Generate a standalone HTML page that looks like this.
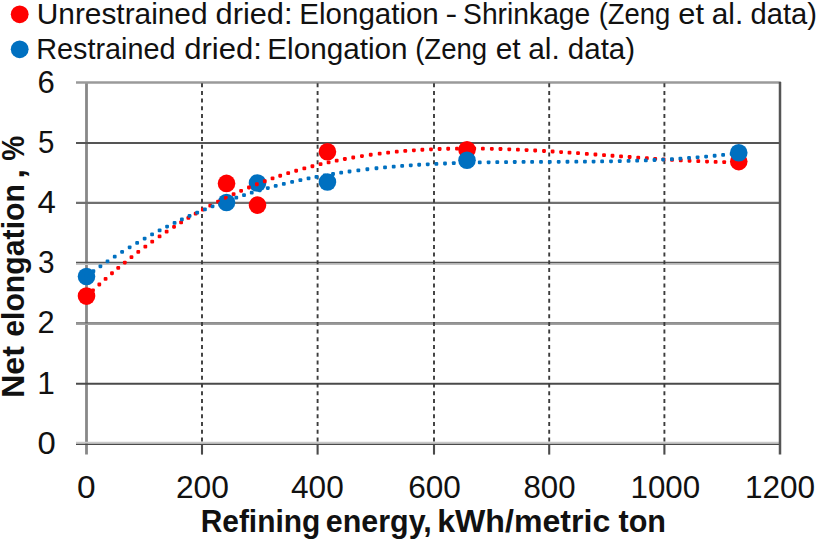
<!DOCTYPE html>
<html><head><meta charset="utf-8"><style>
html,body{margin:0;padding:0;background:#fff;}
body{width:817px;height:539px;overflow:hidden;}
svg{display:block;font-family:"Liberation Sans", sans-serif;}
</style></head><body>
<svg width="817" height="539" viewBox="0 0 817 539">
<line x1="86.5" y1="82" x2="86.5" y2="454.5" stroke="#888" stroke-width="2.8"/>
<line x1="76" y1="82.50" x2="780.8" y2="82.50" stroke="#9a9a9a" stroke-width="2.6"/>
<line x1="76" y1="142.90" x2="780" y2="142.90" stroke="#555" stroke-width="2.0"/>
<line x1="76" y1="202.80" x2="780" y2="202.80" stroke="#707070" stroke-width="2.2"/>
<line x1="76" y1="262.60" x2="780" y2="262.60" stroke="#555" stroke-width="1.8"/>
<line x1="76" y1="264.20" x2="780" y2="264.20" stroke="#c4c4c4" stroke-width="1.5"/>
<line x1="76" y1="322.90" x2="780" y2="322.90" stroke="#666" stroke-width="1.5"/>
<line x1="76" y1="324.30" x2="780" y2="324.30" stroke="#a0a0a0" stroke-width="1.5"/>
<line x1="76" y1="383.80" x2="780" y2="383.80" stroke="#4a4a4a" stroke-width="2.0"/>
<line x1="76" y1="444.30" x2="780" y2="444.30" stroke="#4a4a4a" stroke-width="1.6"/>
<line x1="76" y1="442.60" x2="780" y2="442.60" stroke="#c8c8c8" stroke-width="1.6"/>
<line x1="202.00" y1="83.2" x2="202.00" y2="443" stroke="#3c3c3c" stroke-width="1.9" stroke-dasharray="4 3.7"/>
<line x1="317.60" y1="83.2" x2="317.60" y2="443" stroke="#3c3c3c" stroke-width="1.9" stroke-dasharray="4 3.7"/>
<line x1="434.00" y1="83.2" x2="434.00" y2="443" stroke="#3c3c3c" stroke-width="1.9" stroke-dasharray="4 3.7"/>
<line x1="549.20" y1="83.2" x2="549.20" y2="443" stroke="#3c3c3c" stroke-width="1.9" stroke-dasharray="4 3.7"/>
<line x1="664.40" y1="83.2" x2="664.40" y2="443" stroke="#3c3c3c" stroke-width="1.9" stroke-dasharray="4 3.7"/>
<line x1="202.00" y1="444" x2="202.00" y2="454.6" stroke="#4a4a4a" stroke-width="2.1"/>
<line x1="317.60" y1="444" x2="317.60" y2="454.6" stroke="#4a4a4a" stroke-width="2.1"/>
<line x1="434.00" y1="444" x2="434.00" y2="454.6" stroke="#4a4a4a" stroke-width="2.1"/>
<line x1="549.20" y1="444" x2="549.20" y2="454.6" stroke="#4a4a4a" stroke-width="2.1"/>
<line x1="664.40" y1="444" x2="664.40" y2="454.6" stroke="#4a4a4a" stroke-width="2.1"/>
<line x1="780" y1="82" x2="780" y2="454.5" stroke="#555" stroke-width="2.5"/>
<circle cx="86.50" cy="296.09" r="8.8" fill="#ff0000"/>
<circle cx="226.53" cy="183.42" r="8.8" fill="#ff0000"/>
<circle cx="257.51" cy="205.11" r="8.8" fill="#ff0000"/>
<circle cx="327.43" cy="151.79" r="8.8" fill="#ff0000"/>
<circle cx="467.00" cy="149.80" r="8.8" fill="#ff0000"/>
<circle cx="738.74" cy="161.61" r="8.8" fill="#ff0000"/>
<circle cx="86.50" cy="276.50" r="8.8" fill="#0070c0"/>
<circle cx="226.53" cy="202.52" r="8.8" fill="#0070c0"/>
<circle cx="257.51" cy="183.00" r="8.8" fill="#0070c0"/>
<circle cx="327.43" cy="181.97" r="8.8" fill="#0070c0"/>
<circle cx="467.00" cy="160.28" r="8.8" fill="#0070c0"/>
<circle cx="738.74" cy="152.81" r="8.8" fill="#0070c0"/>
<g fill="#ff0000"><rect x="84.88" y="294.28" width="3.8" height="3.8" rx="1.1"/><rect x="91.10" y="288.39" width="3.8" height="3.8" rx="1.1"/><rect x="97.41" y="282.58" width="3.8" height="3.8" rx="1.1"/><rect x="103.68" y="276.96" width="3.8" height="3.8" rx="1.1"/><rect x="110.08" y="271.37" width="3.8" height="3.8" rx="1.1"/><rect x="116.34" y="266.06" width="3.8" height="3.8" rx="1.1"/><rect x="122.91" y="260.64" width="3.8" height="3.8" rx="1.1"/><rect x="129.57" y="255.30" width="3.8" height="3.8" rx="1.1"/><rect x="136.37" y="250.02" width="3.8" height="3.8" rx="1.1"/><rect x="143.44" y="244.71" width="3.8" height="3.8" rx="1.1"/><rect x="150.31" y="239.72" width="3.8" height="3.8" rx="1.1"/><rect x="157.67" y="234.54" width="3.8" height="3.8" rx="1.1"/><rect x="164.74" y="229.75" width="3.8" height="3.8" rx="1.1"/><rect x="172.14" y="224.91" width="3.8" height="3.8" rx="1.1"/><rect x="179.21" y="220.46" width="3.8" height="3.8" rx="1.1"/><rect x="186.48" y="216.05" width="3.8" height="3.8" rx="1.1"/><rect x="193.74" y="211.81" width="3.8" height="3.8" rx="1.1"/><rect x="200.94" y="207.77" width="3.8" height="3.8" rx="1.1"/><rect x="208.34" y="203.79" width="3.8" height="3.8" rx="1.1"/><rect x="216.11" y="199.79" width="3.8" height="3.8" rx="1.1"/><rect x="223.94" y="195.93" width="3.8" height="3.8" rx="1.1"/><rect x="231.71" y="192.28" width="3.8" height="3.8" rx="1.1"/><rect x="239.21" y="188.92" width="3.8" height="3.8" rx="1.1"/><rect x="247.05" y="185.58" width="3.8" height="3.8" rx="1.1"/><rect x="254.98" y="182.36" width="3.8" height="3.8" rx="1.1"/><rect x="262.88" y="179.33" width="3.8" height="3.8" rx="1.1"/><rect x="270.65" y="176.50" width="3.8" height="3.8" rx="1.1"/><rect x="278.29" y="173.87" width="3.8" height="3.8" rx="1.1"/><rect x="286.28" y="171.28" width="3.8" height="3.8" rx="1.1"/><rect x="294.25" y="168.85" width="3.8" height="3.8" rx="1.1"/><rect x="302.42" y="166.51" width="3.8" height="3.8" rx="1.1"/><rect x="310.52" y="164.35" width="3.8" height="3.8" rx="1.1"/><rect x="318.66" y="162.32" width="3.8" height="3.8" rx="1.1"/><rect x="326.69" y="160.46" width="3.8" height="3.8" rx="1.1"/><rect x="334.79" y="158.72" width="3.8" height="3.8" rx="1.1"/><rect x="342.96" y="157.11" width="3.8" height="3.8" rx="1.1"/><rect x="351.33" y="155.60" width="3.8" height="3.8" rx="1.1"/><rect x="360.03" y="154.17" width="3.8" height="3.8" rx="1.1"/><rect x="368.83" y="152.86" width="3.8" height="3.8" rx="1.1"/><rect x="377.76" y="151.68" width="3.8" height="3.8" rx="1.1"/><rect x="386.23" y="150.69" width="3.8" height="3.8" rx="1.1"/><rect x="394.86" y="149.81" width="3.8" height="3.8" rx="1.1"/><rect x="403.36" y="149.05" width="3.8" height="3.8" rx="1.1"/><rect x="411.96" y="148.40" width="3.8" height="3.8" rx="1.1"/><rect x="420.46" y="147.86" width="3.8" height="3.8" rx="1.1"/><rect x="429.10" y="147.42" width="3.8" height="3.8" rx="1.1"/><rect x="437.73" y="147.08" width="3.8" height="3.8" rx="1.1"/><rect x="446.27" y="146.84" width="3.8" height="3.8" rx="1.1"/><rect x="455.09" y="146.68" width="3.8" height="3.8" rx="1.1"/><rect x="463.71" y="146.61" width="3.8" height="3.8" rx="1.1"/><rect x="472.33" y="146.62" width="3.8" height="3.8" rx="1.1"/><rect x="480.95" y="146.71" width="3.8" height="3.8" rx="1.1"/><rect x="489.93" y="146.88" width="3.8" height="3.8" rx="1.1"/><rect x="498.57" y="147.11" width="3.8" height="3.8" rx="1.1"/><rect x="507.37" y="147.40" width="3.8" height="3.8" rx="1.1"/><rect x="516.00" y="147.75" width="3.8" height="3.8" rx="1.1"/><rect x="524.67" y="148.15" width="3.8" height="3.8" rx="1.1"/><rect x="533.27" y="148.59" width="3.8" height="3.8" rx="1.1"/><rect x="542.10" y="149.09" width="3.8" height="3.8" rx="1.1"/><rect x="550.73" y="149.61" width="3.8" height="3.8" rx="1.1"/><rect x="559.20" y="150.16" width="3.8" height="3.8" rx="1.1"/><rect x="567.60" y="150.72" width="3.8" height="3.8" rx="1.1"/><rect x="576.13" y="151.32" width="3.8" height="3.8" rx="1.1"/><rect x="584.93" y="151.95" width="3.8" height="3.8" rx="1.1"/><rect x="593.53" y="152.58" width="3.8" height="3.8" rx="1.1"/><rect x="602.13" y="153.21" width="3.8" height="3.8" rx="1.1"/><rect x="610.60" y="153.84" width="3.8" height="3.8" rx="1.1"/><rect x="619.13" y="154.47" width="3.8" height="3.8" rx="1.1"/><rect x="627.73" y="155.10" width="3.8" height="3.8" rx="1.1"/><rect x="636.33" y="155.72" width="3.8" height="3.8" rx="1.1"/><rect x="644.97" y="156.32" width="3.8" height="3.8" rx="1.1"/><rect x="653.30" y="156.88" width="3.8" height="3.8" rx="1.1"/><rect x="661.70" y="157.43" width="3.8" height="3.8" rx="1.1"/><rect x="670.13" y="157.94" width="3.8" height="3.8" rx="1.1"/><rect x="678.87" y="158.44" width="3.8" height="3.8" rx="1.1"/><rect x="687.63" y="158.89" width="3.8" height="3.8" rx="1.1"/><rect x="696.37" y="159.30" width="3.8" height="3.8" rx="1.1"/><rect x="705.13" y="159.65" width="3.8" height="3.8" rx="1.1"/><rect x="713.73" y="159.95" width="3.8" height="3.8" rx="1.1"/><rect x="722.29" y="160.18" width="3.8" height="3.8" rx="1.1"/><rect x="730.86" y="160.35" width="3.8" height="3.8" rx="1.1"/></g>
<g fill="#0070c0"><rect x="84.60" y="274.37" width="3.8" height="3.8" rx="1.1"/><rect x="91.49" y="269.36" width="3.8" height="3.8" rx="1.1"/><rect x="98.51" y="264.42" width="3.8" height="3.8" rx="1.1"/><rect x="105.61" y="259.56" width="3.8" height="3.8" rx="1.1"/><rect x="112.84" y="254.78" width="3.8" height="3.8" rx="1.1"/><rect x="120.21" y="250.07" width="3.8" height="3.8" rx="1.1"/><rect x="127.74" y="245.42" width="3.8" height="3.8" rx="1.1"/><rect x="135.24" y="240.95" width="3.8" height="3.8" rx="1.1"/><rect x="142.74" y="236.64" width="3.8" height="3.8" rx="1.1"/><rect x="150.18" y="232.52" width="3.8" height="3.8" rx="1.1"/><rect x="157.71" y="228.51" width="3.8" height="3.8" rx="1.1"/><rect x="165.18" y="224.67" width="3.8" height="3.8" rx="1.1"/><rect x="172.68" y="220.97" width="3.8" height="3.8" rx="1.1"/><rect x="179.98" y="217.51" width="3.8" height="3.8" rx="1.1"/><rect x="187.62" y="214.03" width="3.8" height="3.8" rx="1.1"/><rect x="195.28" y="210.68" width="3.8" height="3.8" rx="1.1"/><rect x="203.02" y="207.45" width="3.8" height="3.8" rx="1.1"/><rect x="210.66" y="204.39" width="3.8" height="3.8" rx="1.1"/><rect x="218.52" y="201.39" width="3.8" height="3.8" rx="1.1"/><rect x="226.43" y="198.51" width="3.8" height="3.8" rx="1.1"/><rect x="234.38" y="195.76" width="3.8" height="3.8" rx="1.1"/><rect x="242.12" y="193.21" width="3.8" height="3.8" rx="1.1"/><rect x="249.84" y="190.79" width="3.8" height="3.8" rx="1.1"/><rect x="257.85" y="188.41" width="3.8" height="3.8" rx="1.1"/><rect x="265.90" y="186.14" width="3.8" height="3.8" rx="1.1"/><rect x="273.82" y="184.03" width="3.8" height="3.8" rx="1.1"/><rect x="281.92" y="182.00" width="3.8" height="3.8" rx="1.1"/><rect x="290.22" y="180.04" width="3.8" height="3.8" rx="1.1"/><rect x="298.49" y="178.21" width="3.8" height="3.8" rx="1.1"/><rect x="306.66" y="176.52" width="3.8" height="3.8" rx="1.1"/><rect x="314.57" y="174.98" width="3.8" height="3.8" rx="1.1"/><rect x="322.85" y="173.48" width="3.8" height="3.8" rx="1.1"/><rect x="331.14" y="172.08" width="3.8" height="3.8" rx="1.1"/><rect x="339.26" y="170.81" width="3.8" height="3.8" rx="1.1"/><rect x="347.63" y="169.60" width="3.8" height="3.8" rx="1.1"/><rect x="356.46" y="168.43" width="3.8" height="3.8" rx="1.1"/><rect x="365.46" y="167.34" width="3.8" height="3.8" rx="1.1"/><rect x="374.56" y="166.34" width="3.8" height="3.8" rx="1.1"/><rect x="383.13" y="165.49" width="3.8" height="3.8" rx="1.1"/><rect x="391.80" y="164.71" width="3.8" height="3.8" rx="1.1"/><rect x="400.26" y="164.02" width="3.8" height="3.8" rx="1.1"/><rect x="408.87" y="163.40" width="3.8" height="3.8" rx="1.1"/><rect x="417.27" y="162.86" width="3.8" height="3.8" rx="1.1"/><rect x="425.83" y="162.38" width="3.8" height="3.8" rx="1.1"/><rect x="434.47" y="161.95" width="3.8" height="3.8" rx="1.1"/><rect x="443.10" y="161.58" width="3.8" height="3.8" rx="1.1"/><rect x="451.88" y="161.25" width="3.8" height="3.8" rx="1.1"/><rect x="460.54" y="160.98" width="3.8" height="3.8" rx="1.1"/><rect x="469.19" y="160.75" width="3.8" height="3.8" rx="1.1"/><rect x="477.85" y="160.57" width="3.8" height="3.8" rx="1.1"/><rect x="486.72" y="160.41" width="3.8" height="3.8" rx="1.1"/><rect x="495.38" y="160.29" width="3.8" height="3.8" rx="1.1"/><rect x="504.18" y="160.19" width="3.8" height="3.8" rx="1.1"/><rect x="512.87" y="160.11" width="3.8" height="3.8" rx="1.1"/><rect x="521.67" y="160.06" width="3.8" height="3.8" rx="1.1"/><rect x="530.23" y="160.01" width="3.8" height="3.8" rx="1.1"/><rect x="539.10" y="159.97" width="3.8" height="3.8" rx="1.1"/><rect x="547.87" y="159.94" width="3.8" height="3.8" rx="1.1"/><rect x="556.80" y="159.90" width="3.8" height="3.8" rx="1.1"/><rect x="565.57" y="159.86" width="3.8" height="3.8" rx="1.1"/><rect x="574.43" y="159.80" width="3.8" height="3.8" rx="1.1"/><rect x="583.03" y="159.73" width="3.8" height="3.8" rx="1.1"/><rect x="591.67" y="159.64" width="3.8" height="3.8" rx="1.1"/><rect x="600.23" y="159.53" width="3.8" height="3.8" rx="1.1"/><rect x="609.10" y="159.39" width="3.8" height="3.8" rx="1.1"/><rect x="617.87" y="159.21" width="3.8" height="3.8" rx="1.1"/><rect x="626.67" y="158.99" width="3.8" height="3.8" rx="1.1"/><rect x="635.27" y="158.74" width="3.8" height="3.8" rx="1.1"/><rect x="643.93" y="158.43" width="3.8" height="3.8" rx="1.1"/><rect x="652.63" y="158.08" width="3.8" height="3.8" rx="1.1"/><rect x="661.23" y="157.67" width="3.8" height="3.8" rx="1.1"/><rect x="670.00" y="157.19" width="3.8" height="3.8" rx="1.1"/><rect x="678.50" y="156.67" width="3.8" height="3.8" rx="1.1"/><rect x="687.17" y="156.06" width="3.8" height="3.8" rx="1.1"/><rect x="695.67" y="155.40" width="3.8" height="3.8" rx="1.1"/><rect x="704.20" y="154.65" width="3.8" height="3.8" rx="1.1"/><rect x="712.74" y="153.83" width="3.8" height="3.8" rx="1.1"/><rect x="721.21" y="152.93" width="3.8" height="3.8" rx="1.1"/><rect x="729.73" y="151.93" width="3.8" height="3.8" rx="1.1"/></g>
<circle cx="19.7" cy="14.3" r="8.9" fill="#ff0000"/>
<circle cx="19.7" cy="49.3" r="8.9" fill="#0070c0"/>
<text transform="translate(39.00 23.90) scale(1.0292 1)" x="-2.17" y="0" font-size="29" fill="#111">Unrestrained</text>
<text transform="translate(216.80 23.90) scale(1.0607 1)" x="-1.16" y="0" font-size="29" fill="#111">dried:</text>
<text transform="translate(301.70 23.90) scale(1.0172 1)" x="-2.32" y="0" font-size="29" fill="#111">Elongation</text>
<text transform="translate(447.10 23.90) scale(1.2104 1)" x="-1.30" y="0" font-size="29" fill="#111">-</text>
<text transform="translate(464.30 23.90) scale(0.9747 1)" x="-1.30" y="0" font-size="29" fill="#111">Shrinkage</text>
<text transform="translate(600.30 23.90) scale(0.9459 1)" x="-1.74" y="0" font-size="29" fill="#111">(Zeng</text>
<text transform="translate(679.70 23.90) scale(1.0610 1)" x="-1.30" y="0" font-size="29" fill="#111">et</text>
<text transform="translate(713.10 23.90) scale(1.0270 1)" x="-1.30" y="0" font-size="29" fill="#111">al.</text>
<text transform="translate(751.70 23.90) scale(1.0036 1)" x="-1.16" y="0" font-size="29" fill="#111">data)</text>
<text transform="translate(38.60 58.80) scale(0.9933 1)" x="-2.32" y="0" font-size="29" fill="#111">Restrained</text>
<text transform="translate(185.40 58.80) scale(1.0709 1)" x="-1.16" y="0" font-size="29" fill="#111">dried:</text>
<text transform="translate(269.70 58.80) scale(1.0239 1)" x="-2.32" y="0" font-size="29" fill="#111">Elongation</text>
<text transform="translate(416.80 58.80) scale(0.9500 1)" x="-1.74" y="0" font-size="29" fill="#111">(Zeng</text>
<text transform="translate(497.00 58.80) scale(1.0301 1)" x="-1.30" y="0" font-size="29" fill="#111">et</text>
<text transform="translate(529.50 58.80) scale(1.0307 1)" x="-1.30" y="0" font-size="29" fill="#111">al.</text>
<text transform="translate(569.00 58.80) scale(1.0178 1)" x="-1.16" y="0" font-size="29" fill="#111">data)</text>
<text transform="translate(38.80 453.85) scale(1.0594 1)" x="-1.24" y="0" font-size="31" fill="#111">0</text>
<text transform="translate(39.50 394.05) scale(1.0203 1)" x="-2.32" y="0" font-size="31" fill="#111">1</text>
<text transform="translate(39.10 332.75) scale(0.9926 1)" x="-1.55" y="0" font-size="31" fill="#111">2</text>
<text transform="translate(39.10 272.75) scale(0.9609 1)" x="-1.24" y="0" font-size="31" fill="#111">3</text>
<text transform="translate(38.20 212.85) scale(1.0645 1)" x="-0.78" y="0" font-size="31" fill="#111">4</text>
<text transform="translate(39.10 152.55) scale(0.9508 1)" x="-1.24" y="0" font-size="31" fill="#111">5</text>
<text transform="translate(39.10 93.05) scale(1.0028 1)" x="-1.55" y="0" font-size="31" fill="#111">6</text>
<text transform="translate(78.40 498.00) scale(1.0798 1)" x="-1.24" y="0" font-size="31" fill="#111">0</text>
<text transform="translate(177.50 498.00) scale(1.0249 1)" x="-1.55" y="0" font-size="31" fill="#111">200</text>
<text transform="translate(291.80 498.00) scale(1.0190 1)" x="-0.78" y="0" font-size="31" fill="#111">400</text>
<text transform="translate(409.80 498.00) scale(1.0188 1)" x="-1.55" y="0" font-size="31" fill="#111">600</text>
<text transform="translate(524.80 498.00) scale(1.0074 1)" x="-1.40" y="0" font-size="31" fill="#111">800</text>
<text transform="translate(632.80 498.00) scale(1.0105 1)" x="-2.32" y="0" font-size="31" fill="#111">1000</text>
<text transform="translate(747.30 498.00) scale(1.0182 1)" x="-2.32" y="0" font-size="31" fill="#111">1200</text>
<text transform="translate(202.60 531.60) scale(0.9806 1)" x="-1.98" y="0" font-size="30.5" font-weight="bold" fill="#111">Refining</text>
<text transform="translate(327.00 531.60) scale(0.9977 1)" x="-1.22" y="0" font-size="30.5" font-weight="bold" fill="#111">energy,</text>
<text transform="translate(439.40 531.60) scale(1.0536 1)" x="-2.14" y="0" font-size="30.5" font-weight="bold" fill="#111">kWh/metric</text>
<text transform="translate(618.80 531.60) scale(1.0024 1)" x="-0.30" y="0" font-size="30.5" font-weight="bold" fill="#111">ton</text>
<text transform="translate(24.40 396.00) rotate(-90) scale(1.0594 1)" x="-1.98" y="0" font-size="30.5" font-weight="bold" fill="#111">Net</text>
<text transform="translate(24.40 335.60) rotate(-90) scale(0.9912 1)" x="-1.22" y="0" font-size="30.5" font-weight="bold" fill="#111">elongation</text>
<text transform="translate(24.40 176.30) rotate(-90) scale(1.1710 1)" x="-2.14" y="0" font-size="30.5" font-weight="bold" fill="#111">,</text>
<text transform="translate(24.40 160.10) rotate(-90) scale(0.9173 1)" x="-0.76" y="0" font-size="30.5" font-weight="bold" fill="#111">%</text>
</svg>
</body></html>
